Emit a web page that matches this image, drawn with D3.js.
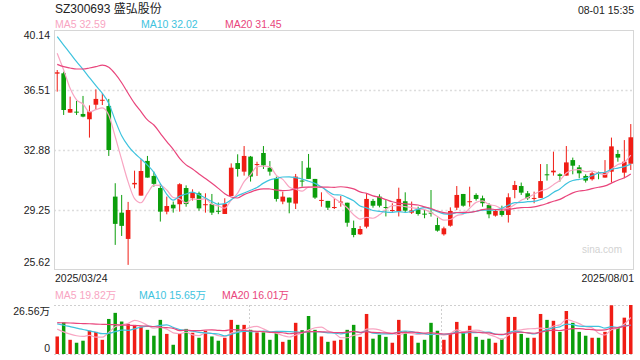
<!DOCTYPE html>
<html><head><meta charset="utf-8">
<script src="https://cdn.jsdelivr.net/npm/d3@7"></script>
<style>
html,body{margin:0;padding:0;background:#fff;}
svg{display:block;font-family:"Liberation Sans",Arial,"Noto Sans CJK SC",sans-serif;}
</style></head>
<body><svg id="c" width="640" height="360"></svg>
<script>
// ---------- data ----------
const title = "SZ300693 盛弘股份";
const timeLabel = "08-01 15:35";
const dateLabels = ["2025/03/24", "2025/08/01"];
const priceTicks = [40.14, 36.51, 32.88, 29.25, 25.62];
const volTicks = [0, 26.56];
const volTickLabels = ["0", "26.56万"];
const priceMaLabels = ["MA5 32.59", "MA10 32.02", "MA20 31.45"];
const volMaLabels = ["MA5 19.82万", "MA10 15.65万", "MA20 16.01万"];

const open = [37.50,37.52,35.14,35.20,35.06,34.74,35.62,35.86,35.54,30.06,
29.09,27.50,30.80,30.12,32.22,31.31,30.58,29.15,29.57,29.60,
30.58,29.96,30.26,29.55,29.61,29.20,29.01,30.10,32.09,31.57,
32.48,31.97,32.70,31.81,31.17,29.76,30.00,29.64,31.03,31.81,
31.13,29.82,29.80,29.39,29.72,29.69,28.16,27.78,28.24,29.80,
30.06,29.43,29.19,29.17,29.78,29.09,29.35,29.03,29.09,28.34,
27.78,28.30,29.39,30.22,29.74,30.16,29.96,29.55,28.91,29.19,
28.95,30.46,30.70,30.26,29.94,29.98,31.41,31.53,31.41,31.33,
32.27,31.83,31.31,31.11,31.53,31.21,31.57,32.64,31.51,32.05];
const high = [37.72,37.62,36.11,35.85,36.15,35.58,36.55,36.31,35.97,30.87,
30.16,29.74,31.63,32.32,32.52,31.57,30.83,30.06,29.76,30.87,
30.74,30.50,30.36,30.26,30.22,29.70,29.96,32.07,32.62,33.12,
32.52,32.17,33.12,32.21,31.27,30.36,30.00,31.43,32.21,32.64,
31.13,30.32,29.80,29.96,30.10,29.69,28.61,28.28,30.26,29.92,
30.20,29.88,29.66,30.60,30.32,29.76,29.45,29.31,30.46,28.79,
28.24,29.41,30.70,30.22,30.66,30.26,30.12,29.66,29.31,29.51,
30.26,31.01,30.91,30.40,30.36,32.03,32.03,32.78,31.47,33.12,
32.42,31.97,31.41,31.57,31.57,32.27,33.63,32.88,33.48,34.45];
const low = [36.41,35.00,35.14,35.00,34.86,33.63,35.34,35.60,32.52,27.14,
27.68,25.93,30.56,30.12,31.21,30.66,28.55,28.99,29.09,29.15,
29.45,29.82,29.21,29.09,28.95,29.00,29.01,30.10,31.27,31.33,
30.97,31.31,31.73,31.33,29.76,29.60,29.05,29.31,30.66,31.13,
29.92,29.45,29.25,29.31,29.45,28.24,27.60,27.74,28.14,29.39,
29.41,28.86,29.14,28.86,29.09,29.01,28.91,28.75,28.85,27.94,
27.70,28.24,29.25,29.45,29.45,29.82,29.45,28.75,28.85,28.85,
28.49,29.96,30.16,29.86,29.66,29.98,31.03,31.33,30.97,31.33,
31.41,31.17,30.91,31.03,31.11,31.21,30.91,32.17,31.17,31.67];
const close = [37.58,35.30,35.36,35.16,34.90,35.22,35.97,35.92,32.88,28.41,
28.29,29.25,30.89,31.61,31.21,30.83,29.15,29.49,29.35,30.81,
29.61,30.32,29.35,29.60,29.09,29.14,29.61,31.81,31.73,32.52,
31.27,32.03,31.95,31.57,29.92,30.06,29.70,31.27,30.98,31.13,
30.00,29.86,29.39,29.43,29.76,28.48,27.74,28.10,29.92,29.51,
29.51,29.37,29.25,29.92,29.21,29.23,29.01,28.99,29.05,28.00,
28.14,29.19,30.16,29.51,29.78,29.92,29.66,28.99,29.19,28.95,
30.02,30.76,30.30,29.96,29.98,31.00,31.35,31.63,31.31,32.13,
31.93,31.47,31.03,31.47,31.49,31.51,33.10,32.42,32.17,33.65];
const volume = [9.5,17.1,7.7,6.1,7.2,12.6,12.0,7.7,19.0,22.3,
17.6,16.3,15.8,14.9,13.1,9.9,18.5,10.9,5.0,10.9,
13.6,11.5,8.8,12.6,9.5,7.2,8.8,18.5,15.8,15.8,
13.1,11.7,11.7,7.7,12.4,6.6,7.7,16.9,12.9,20.6,
13.1,9.5,6.6,7.2,7.7,13.1,15.8,9.3,21.7,8.3,
10.4,9.3,6.1,18.5,12.2,9.9,6.1,7.7,16.9,12.6,
7.7,10.9,17.4,12.0,15.3,9.3,7.7,8.3,6.1,8.3,
20.1,20.1,10.9,8.8,8.8,21.7,18.5,18.0,12.0,23.3,
16.9,12.0,9.9,8.8,8.8,12.0,26.4,14.2,19.7,26.56];

// moving-average values before enough bars exist
const ma5Head = [38.73,37.72,36.61,35.91];
const ma10Head = [39.74,39.23,38.73,38.22,37.76,37.26,36.77,36.31,35.70];
const ma20Head = [38.06,37.92,37.84,37.78,37.78,37.84,37.92,38.02,37.88,37.48,
36.95,36.31,35.70,35.20,34.70,34.39,33.89,33.39,32.92];
const vma5Head = [13.5,12.0,10.8,9.9];
const vma10Head = [16.3,15.6,14.8,14.0,13.3,12.5,11.8,11.0,11.2];
const vma20Head = [17.0,16.9,16.8,16.6,16.5,16.4,16.2,16.1,16.0,15.9,
15.7,15.6,15.4,15.3,15.1,14.9,14.6,14.3,13.9];

// ---------- style ----------
const RED = "#f01d15", GREEN = "#0b9e0b";
const C5 = "#f8a5c2", C10 = "#3ec3de", C20 = "#e9457c";
const TXT = "#222";

const svg = d3.select("#c");
const L = 54, R = 634, T = 30, B = 270;
const VT = 305, VB = 354;
const N = close.length;

const x = d3.scaleBand().domain(d3.range(N)).range([L, R]).padding(0);
const cx = i => x(i) + x.bandwidth() / 2;
const y = d3.scaleLinear().domain([priceTicks[4], priceTicks[0]]).range([B, T]);
const yv = d3.scaleLinear().domain([0, volTicks[1]]).range([VB, VT]);

function ma(vals, n, head) {
  return vals.map((v, i) => i < n - 1 ? head[i] : d3.mean(vals.slice(i - n + 1, i + 1)));
}

// ---------- header ----------
svg.append("text").attr("x", 55).attr("y", 12.5).attr("font-size", 12).attr("fill", TXT).text(title);
svg.append("text").attr("x", 634).attr("y", 14).attr("text-anchor", "end").attr("font-size", 10.5).attr("fill", TXT).text(timeLabel);
const legX = [55, 141, 225];
const legC = [C5, C10, C20];
priceMaLabels.forEach((t, k) => svg.append("text").attr("x", legX[k]).attr("y", 28).attr("font-size", 10.5).attr("fill", legC[k]).text(t));

// ---------- price panel ----------
svg.append("g").selectAll("line").data(priceTicks.slice(1, 4)).join("line")
  .attr("x1", L).attr("x2", R).attr("y1", d => Math.round(y(d)) + 0.5).attr("y2", d => Math.round(y(d)) + 0.5)
  .attr("stroke", "#dcdcdc").attr("stroke-width", 1.5).attr("stroke-dasharray", "2,2.5");

svg.append("rect").attr("x", L + 0.5).attr("y", T + 0.5).attr("width", R - L - 1).attr("height", B - T - 1)
  .attr("fill", "none").attr("stroke", "#d6d6d6");

const ya = svg.append("g").attr("transform", `translate(${L},0)`)
  .call(d3.axisLeft(y).tickValues(priceTicks).tickSize(0).tickPadding(4).tickFormat(d3.format(".2f")));
ya.select(".domain").remove();
ya.selectAll("text").attr("font-size", 10.5).attr("fill", TXT).attr("font-family", "Liberation Sans, Arial, sans-serif")
  .attr("dy", (d, i) => i === 0 ? "0.8em" : (i === priceTicks.length - 1 ? "-0.42em" : "0.32em"));

// watermark
svg.append("text").attr("x", 622).attr("y", 253).attr("text-anchor", "end").attr("font-size", 10).attr("fill", "#d2d2d2").text("sina.com");

// candles
const cg = svg.append("g");
const bw = x.bandwidth() * 0.72;
const col = i => close[i] >= open[i] ? RED : GREEN;
cg.selectAll("line.w").data(d3.range(N)).join("line").attr("class", "w")
  .attr("x1", cx).attr("x2", cx).attr("y1", i => y(high[i])).attr("y2", i => y(low[i]))
  .attr("stroke", col).attr("stroke-width", 1);
cg.selectAll("rect").data(d3.range(N)).join("rect")
  .attr("x", i => cx(i) - bw / 2).attr("width", bw)
  .attr("y", i => y(Math.max(open[i], close[i])))
  .attr("height", i => Math.max(1, Math.abs(y(open[i]) - y(close[i]))))
  .attr("fill", col);

// MA lines
const line = d3.line().x((d, i) => cx(i)).curve(d3.curveMonotoneX);
[[ma(close, 5, ma5Head), C5], [ma(close, 10, ma10Head), C10], [ma(close, 20, ma20Head), C20]].forEach(([vals, c]) => {
  svg.append("path").attr("d", line.y(d => y(d))(vals)).attr("fill", "none").attr("stroke", c).attr("stroke-width", 1.2);
});

// dates
svg.append("text").attr("x", 55).attr("y", 281.5).attr("font-size", 10.5).attr("fill", TXT).text(dateLabels[0]);
svg.append("text").attr("x", 634).attr("y", 281.5).attr("text-anchor", "end").attr("font-size", 10.5).attr("fill", TXT).text(dateLabels[1]);

// ---------- volume panel ----------
const vlegX = [55, 139, 222];
volMaLabels.forEach((t, k) => svg.append("text").attr("x", vlegX[k]).attr("y", 299).attr("font-size", 10.5).attr("fill", legC[k]).text(t));

const dot = {stroke: "#cfcfcf", "stroke-width": 1, "stroke-dasharray": "2,2"};
function dl(x1, y1, x2, y2) {
  const l = svg.append("line").attr("x1", x1).attr("y1", y1).attr("x2", x2).attr("y2", y2);
  Object.entries(dot).forEach(([k, v]) => l.attr(k, v));
}
dl(L, VT + 0.5, R, VT + 0.5);
dl(L, VB + 0.5, R, VB + 0.5);
dl(249.5, VT, 249.5, VB);
dl(441.5, VT, 441.5, VB);

const va = svg.append("g").attr("transform", `translate(${L},0)`)
  .call(d3.axisLeft(yv).tickValues(volTicks).tickSize(0).tickPadding(4).tickFormat((d, i) => volTickLabels[i]));
va.select(".domain").remove();
va.selectAll("text").attr("font-size", 10.5).attr("fill", TXT).attr("font-family", "Liberation Sans, Arial, 'Noto Sans CJK SC', sans-serif")
  .attr("dy", (d, i) => i === 0 ? "-0.26em" : "0.88em");

const vbw = x.bandwidth() * 0.54;
svg.append("g").selectAll("rect").data(d3.range(N)).join("rect")
  .attr("x", i => cx(i) - vbw / 2).attr("width", vbw)
  .attr("y", i => yv(volume[i])).attr("height", i => VB - yv(volume[i]))
  .attr("fill", col);

[[ma(volume, 5, vma5Head), C5], [ma(volume, 10, vma10Head), C10], [ma(volume, 20, vma20Head), C20]].forEach(([vals, c]) => {
  svg.append("path").attr("d", line.y(d => yv(d))(vals)).attr("fill", "none").attr("stroke", c).attr("stroke-width", 1.2);
});
</script></body></html>
